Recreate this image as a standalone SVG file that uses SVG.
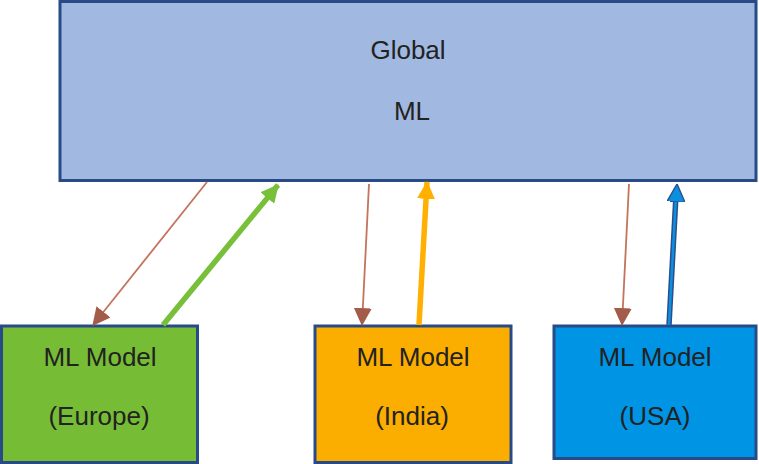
<svg xmlns="http://www.w3.org/2000/svg" width="759" height="464" viewBox="0 0 759 464">
<defs>
<style>
.box{stroke:#284b87;stroke-width:3}
.t{font-family:"Liberation Sans",Arial,sans-serif;font-size:26px;fill:#222222;text-anchor:middle}
.thin{stroke:#c4735c;stroke-width:1.8;fill:none}
.thick{stroke-width:5.5;fill:none}
</style>
<marker id="hb" markerUnits="userSpaceOnUse" markerWidth="18" markerHeight="18" viewBox="0 0 16 16" refX="15" refY="8" orient="auto">
<path d="M0,0 L16,8 L0,16 Z" fill="#a25c49"/>
</marker>
<marker id="hg" markerUnits="userSpaceOnUse" markerWidth="18" markerHeight="18" viewBox="0 0 16 16" refX="15" refY="8" orient="auto">
<path d="M0,0 L16,8 L0,16 Z" fill="#78c03a"/>
</marker>
<marker id="ho" markerUnits="userSpaceOnUse" markerWidth="18" markerHeight="18" viewBox="0 0 16 16" refX="15" refY="8" orient="auto">
<path d="M0,0 L16,8 L0,16 Z" fill="#ffb000"/>
</marker>
<marker id="hu" markerUnits="userSpaceOnUse" markerWidth="18" markerHeight="18" viewBox="0 0 16 16" refX="15" refY="8" orient="auto">
<path d="M0,0 L16,8 L0,16 Z" fill="#0b8fe0" stroke="#2c4f8c" stroke-width="1.2"/>
</marker>
</defs>
<rect width="759" height="464" fill="#ffffff"/>
<g id="global">
<rect class="box" x="60" y="1.5" width="696" height="179" fill="#a1b8e1"/>
<text class="t" x="408" y="59">Global</text>
<text class="t" x="412" y="120">ML</text>
</g>
<g id="europe">
<rect class="box" x="1.5" y="326" width="196" height="136.5" fill="#76bd35"/>
<text class="t" x="100" y="366">ML Model</text>
<text class="t" x="99" y="425">(Europe)</text>
</g>
<g id="india">
<rect class="box" x="315" y="326" width="196" height="136.5" fill="#fbad00"/>
<text class="t" x="413" y="366">ML Model</text>
<text class="t" x="412" y="425">(India)</text>
</g>
<g id="usa">
<rect class="box" x="554" y="326" width="202" height="132.5" fill="#0094e4"/>
<text class="t" x="655" y="366">ML Model</text>
<text class="t" x="655" y="425">(USA)</text>
</g>
<g id="connectors">
<line class="thin" x1="207" y1="182" x2="93" y2="325" marker-end="url(#hb)"/>
<line class="thick" stroke="#78c03a" x1="163" y1="325" x2="278" y2="185" marker-end="url(#hg)"/>
<line class="thin" x1="369" y1="184" x2="362" y2="325" marker-end="url(#hb)"/>
<line class="thick" stroke="#ffb000" x1="419" y1="325" x2="427" y2="182" marker-end="url(#ho)"/>
<line class="thin" x1="629" y1="184" x2="622" y2="325" marker-end="url(#hb)"/>
<line stroke="#2c4f8c" stroke-width="5.5" x1="669" y1="325" x2="676" y2="195"/>
<line stroke="#0b8fe0" stroke-width="2.5" x1="669" y1="325" x2="676" y2="195"/>
<line stroke="none" x1="669" y1="325" x2="677" y2="185" marker-end="url(#hu)"/>
</g>
</svg>
